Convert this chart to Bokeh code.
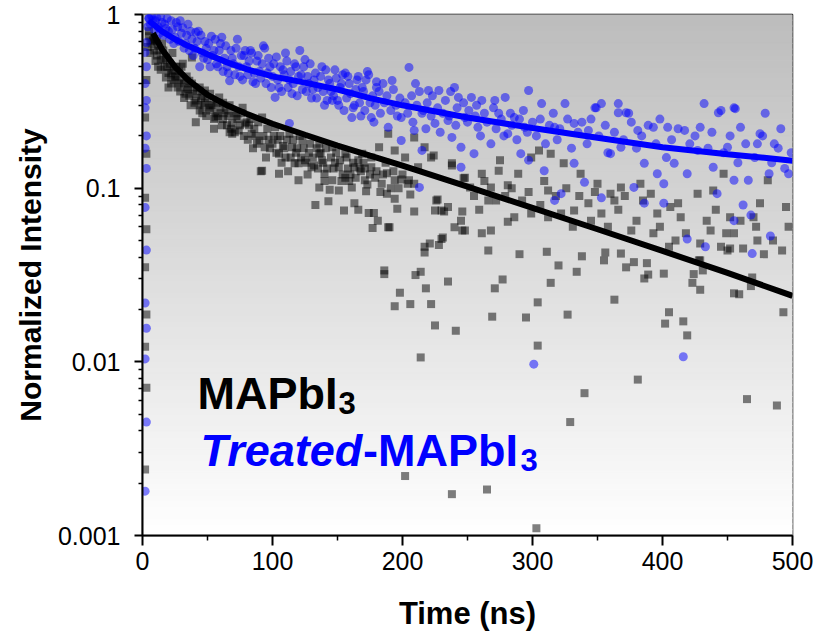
import numpy as np
from bokeh.plotting import figure
from bokeh.models import Range1d, FixedTicker, CustomJSTickFormatter, Label
from bokeh.embed import file_html
from bokeh.resources import INLINE

# ---------------- data ----------------
# MAPbI3 raw decay (black squares): time (ns), normalized intensity
black_t = [2, 3, 2, 3, 2, 3, 2, 3, 2, 3, 4, 5,
           6, 8, 9, 10, 11, 12, 13, 15, 16, 18, 19, 20, 22, 23, 23, 25, 26, 28, 30, 31, 33, 35, 36, 38,
           40, 41, 41, 44, 45, 47, 48, 51, 53, 55, 56, 57, 59, 62, 64, 65, 67, 69, 69, 72, 74, 77, 79,
           82, 84, 85, 87, 90, 91, 92, 92, 94, 95, 97, 100, 102, 105, 105, 107, 108, 110, 112, 113, 115,
           117, 118, 120, 120, 123, 125, 127, 128, 130, 132, 133, 136, 136, 136, 138, 140, 140, 142, 143,
           144, 146, 146, 148, 151, 151, 153, 155, 156, 156, 158, 160, 161, 163, 163, 166, 166, 168, 169,
           170, 171, 172, 174, 176, 176, 177, 178, 179,
           5, 6, 7, 9, 11, 12, 14, 14, 16, 17, 18, 20, 21, 22, 24, 24, 26, 27, 28, 29, 30, 32, 32, 34, 34,
           36, 37, 38, 39, 40,
           42, 43, 44, 46, 46, 48, 49, 50, 52, 52, 54, 55, 57, 58, 60, 61, 62, 63, 66, 67, 68, 70, 71, 73,
           75, 76, 78, 80, 81, 83, 86, 88, 89, 93, 96, 98,
           101, 103, 104, 106, 109, 111, 114, 116, 119, 121, 122, 124, 126, 129, 131, 134, 135, 137, 139,
           141, 145, 147, 149, 152, 154, 157, 159, 162, 164, 167, 171, 173, 175, 180, 183, 185, 187, 191,
           193, 197, 200,
           181, 182, 184, 186, 186, 188, 188, 189, 189, 190, 194, 194, 194, 194, 196, 198, 199, 202, 202,
           204, 205, 206, 206, 209, 209, 209, 210, 212, 214, 214, 217, 217, 217, 218, 221, 222, 222, 224,
           225, 225, 226, 227, 228, 230, 230, 231, 232, 235, 235, 238, 238, 238, 240, 241, 245, 246, 246,
           247, 248, 248,
           252, 261, 261, 265, 266, 266, 268, 268, 269, 271, 274, 275, 277, 281, 281, 286, 289, 290, 295,
           299, 299, 303, 304, 304, 305, 311, 312, 312, 314, 314, 320, 322, 324, 327, 329, 332, 334, 337,
           338, 340, 343, 350, 353, 355, 356, 360, 363, 363, 368, 368, 372, 376, 378, 381, 383, 386, 388,
           389, 391, 393, 396, 401, 402, 405, 405, 406, 414, 416, 419, 423, 424, 427, 428, 429, 429, 429,
           431, 437, 439, 445, 447, 450, 452, 452, 455, 455, 459, 460, 465, 468, 469, 470, 473, 475, 478,
           481, 488, 492, 493, 495,
           255, 259, 263, 272, 279, 284, 292, 297, 306, 309, 318, 326, 331, 336, 345, 348, 358, 366, 371,
           380, 385, 398, 410, 412, 418, 434, 441, 449, 462, 472, 485, 497]
black_v = [0.0024, 0.0071, 0.0122, 0.0187, 0.035, 0.058, 0.088, 0.158, 0.255, 0.42, 0.65, 0.8,
           0.7, 0.71, 0.62, 0.54, 0.7, 0.5, 0.62, 0.68, 0.55, 0.434, 0.5, 0.38, 0.45, 0.476, 0.6, 0.44, 0.5,
           0.4, 0.42, 0.52, 0.35, 0.37, 0.415, 0.566,
           0.38, 0.32, 0.24, 0.28, 0.33, 0.3, 0.365, 0.29, 0.3, 0.25, 0.255, 0.27, 0.333, 0.25, 0.28, 0.23,
           0.21, 0.236, 0.206, 0.26, 0.215, 0.29, 0.236,
           0.23, 0.206, 0.17, 0.2, 0.188, 0.125, 0.126, 0.255, 0.172, 0.15, 0.19, 0.18, 0.224, 0.158, 0.121,
           0.14, 0.175, 0.15, 0.125, 0.206, 0.172,
           0.139, 0.16, 0.139, 0.111, 0.188, 0.145, 0.12, 0.16, 0.132, 0.135, 0.08, 0.158, 0.18, 0.101, 0.145,
           0.121, 0.11, 0.13, 0.084,
           0.098, 0.111, 0.172, 0.14, 0.132, 0.097, 0.11, 0.0744, 0.115, 0.158, 0.13, 0.12, 0.101, 0.082,
           0.132, 0.075, 0.145, 0.125, 0.158,
           0.14, 0.111, 0.096, 0.072, 0.132, 0.15, 0.059, 0.072, 0.115,
           0.75, 0.6, 0.68, 0.72, 0.58, 0.66, 0.55, 0.48, 0.62, 0.5, 0.56, 0.46, 0.52, 0.4, 0.5, 0.42, 0.44,
           0.38, 0.47, 0.36, 0.5, 0.4, 0.33, 0.38, 0.44,
           0.34, 0.3, 0.4, 0.35, 0.31,
           0.36, 0.3, 0.38, 0.34, 0.27, 0.31, 0.26, 0.33, 0.28, 0.35, 0.3, 0.22, 0.31, 0.26, 0.29, 0.23, 0.31,
           0.27, 0.26, 0.3, 0.22, 0.27, 0.21, 0.25,
           0.23, 0.27, 0.2, 0.24, 0.19, 0.25, 0.22, 0.18, 0.24, 0.2, 0.22, 0.17,
           0.2, 0.16, 0.19, 0.2, 0.17, 0.19, 0.15, 0.19, 0.17, 0.2, 0.15, 0.17, 0.14, 0.18, 0.15, 0.17, 0.13,
           0.16, 0.14,
           0.17, 0.15, 0.13, 0.16, 0.145, 0.12, 0.15, 0.11, 0.14, 0.115, 0.13, 0.13, 0.105, 0.12, 0.125,
           0.095, 0.12, 0.14, 0.1,
           0.125, 0.1, 0.12,
           0.065, 0.172, 0.106, 0.032, 0.0336, 0.093, 0.122, 0.0595, 0.206, 0.0595, 0.087, 0.0209, 0.165,
           0.111, 0.076, 0.025, 0.112, 0.15, 0.0022,
           0.106, 0.111, 0.092, 0.0215, 0.106, 0.0735, 0.196, 0.0316, 0.132, 0.033, 0.0106, 0.0426, 0.172,
           0.046, 0.0265, 0.048, 0.15, 0.0215, 0.154,
           0.0744, 0.0162, 0.085, 0.086, 0.047, 0.0744, 0.051, 0.052, 0.0735, 0.029, 0.078, 0.135, 0.139,
           0.00173, 0.0595, 0.0151, 0.065, 0.0735, 0.057,
           0.114, 0.115, 0.057,
           0.101, 0.121, 0.055, 0.00184, 0.0438, 0.085, 0.101, 0.057, 0.0182, 0.0265, 0.126, 0.145, 0.0298,
           0.104, 0.064, 0.068, 0.121, 0.0417, 0.018,
           0.15, 0.0715, 0.0011, 0.022, 0.0124, 0.165, 0.043, 0.097, 0.068, 0.158, 0.0285, 0.0359, 0.0715,
           0.139, 0.0187, 0.0045, 0.0744, 0.033, 0.121,
           0.0405, 0.0066, 0.082, 0.106, 0.0715, 0.0384, 0.0426, 0.093, 0.085, 0.0228, 0.042, 0.101, 0.035,
           0.057, 0.0375, 0.0079, 0.106, 0.0302, 0.037,
           0.0318, 0.093, 0.055, 0.0715, 0.0322, 0.0166, 0.046, 0.0193, 0.078, 0.068, 0.0171, 0.0142, 0.0285,
           0.032, 0.093, 0.0384, 0.026, 0.0384, 0.048,
           0.0336, 0.057, 0.097, 0.046, 0.121, 0.0438, 0.068, 0.045, 0.0248, 0.055, 0.0245, 0.065, 0.0061,
           0.0273, 0.0306, 0.068, 0.05, 0.082, 0.0417,
           0.111, 0.0056, 0.0438, 0.0193, 0.078,
           0.09, 0.075, 0.11, 0.085, 0.09, 0.1, 0.085, 0.095, 0.08, 0.11, 0.09, 0.1, 0.06, 0.09, 0.065, 0.095,
           0.06, 0.075, 0.09,
           0.065, 0.085, 0.06, 0.05, 0.082, 0.055, 0.065, 0.075, 0.055, 0.045, 0.06, 0.05, 0.06]

# Treated-MAPbI3 raw decay (blue circles)
blue_t = [2, 3, 2, 3, 2, 3, 2, 3, 2, 3, 2, 3, 2, 3, 2, 3, 4, 5,
          5, 7, 10, 12, 14, 17, 20, 22, 25, 27, 29, 30, 33, 35, 38, 40, 41, 43, 44, 46, 48, 50, 53, 55,
          58, 60, 61, 63, 66, 67, 68, 70, 73, 75, 78, 80, 83, 85, 88, 90, 93, 94, 95, 98, 100, 102, 103,
          105, 108, 110, 113, 113, 115, 118, 120, 121, 123, 125, 128, 130, 133, 135, 138, 140, 143, 145,
          146, 148, 150, 153, 155, 156, 158, 160, 161, 163, 165, 168, 170, 173, 174, 175, 176, 178, 180,
          180,
          6, 8, 9, 11, 13, 15, 16, 18, 19, 21, 23, 24, 26, 28, 31, 32, 34, 36, 37, 39, 42, 45, 47, 49,
          51, 52, 54, 56, 57, 59, 62, 64, 65, 69, 71, 72, 74, 76, 77, 79, 81, 82, 84, 86, 87, 89, 91, 92,
          96, 97, 99,
          101, 104, 106, 107, 109, 111, 112, 114, 116, 117, 119, 122, 124, 126, 127, 129, 131, 132, 134,
          137, 139, 141, 142, 144, 147, 149, 151, 152, 154, 157, 159, 162, 164, 166, 167, 169, 171, 172,
          177, 179, 182, 183, 185, 186, 188, 191, 193, 195, 196, 198,
          202, 204, 207, 208, 211, 213, 216, 218, 219, 222, 223, 227, 229, 231, 233, 236, 237, 241, 242,
          247, 250, 251, 256, 257, 260, 263, 265, 270, 272, 276, 278, 283, 284, 288, 290, 293, 296, 300,
          303, 306, 310, 313, 316, 319, 321, 327, 330, 335, 338, 342, 345, 351, 356, 358, 363, 370, 376,
          380, 384, 389, 395, 398, 403, 407, 412, 421, 425, 435, 438, 447, 452, 458, 464, 471, 477, 484,
          489, 494, 499,
          189, 192, 199, 199, 205, 209, 210, 213, 215, 215, 220, 225, 228, 235, 238, 240, 243, 245, 245,
          248, 253, 255, 258, 261, 268, 271, 274, 279, 281, 286, 291, 294, 297, 297, 301, 307, 309, 317,
          317, 322, 325, 332, 332, 340, 343, 348, 349, 353, 353, 360, 366, 366, 368, 372, 374, 378, 381,
          386, 386, 393, 396, 401, 401, 404, 409, 416, 417, 419, 419, 427, 429, 432, 433, 439, 442, 443,
          445, 450, 455, 455, 455, 456, 460, 462, 466, 468, 469, 473, 475, 479, 482, 483, 486, 491, 497]
blue_v = [0.0018, 0.0045, 0.0104, 0.0156, 0.0218, 0.044, 0.0775, 0.13, 0.17, 0.2, 0.29, 0.32, 0.4, 0.5,
          0.605, 0.69, 0.85, 0.95,
          0.95, 0.98, 0.92, 0.85, 0.97, 0.88, 0.8, 0.92, 0.74, 0.85, 0.92, 0.78, 0.68, 0.88, 0.72, 0.64,
          0.79, 0.8, 0.5, 0.6, 0.7, 0.55, 0.75, 0.62,
          0.5, 0.68, 0.74, 0.56, 0.46, 0.415, 0.62, 0.52, 0.72, 0.44, 0.58, 0.5, 0.62, 0.41, 0.54, 0.47,
          0.66, 0.64, 0.4, 0.5, 0.44, 0.333, 0.57,
          0.38, 0.48, 0.6, 0.42, 0.236, 0.35, 0.5, 0.44, 0.62, 0.37, 0.55, 0.4, 0.33, 0.46, 0.38, 0.5, 0.3,
          0.42, 0.36,
          0.32, 0.48, 0.32, 0.4, 0.28, 0.46, 0.44, 0.35, 0.255, 0.3, 0.42, 0.26, 0.36, 0.47, 0.45, 0.31,
          0.255, 0.24, 0.38, 0.41,
          0.88, 0.93, 0.82, 0.96, 0.78, 0.9, 0.76, 0.83, 0.95, 0.72, 0.82, 0.68, 0.9, 0.7, 0.84, 0.64, 0.76,
          0.62, 0.8, 0.58, 0.7, 0.76, 0.56, 0.64,
          0.68, 0.5, 0.58, 0.72, 0.52, 0.62, 0.47, 0.66, 0.5, 0.56, 0.45, 0.64, 0.5, 0.58, 0.42, 0.62, 0.45,
          0.54, 0.6, 0.46, 0.4, 0.58, 0.43, 0.52,
          0.46, 0.56, 0.38,
          0.52, 0.42, 0.5, 0.36, 0.45, 0.54, 0.38, 0.47, 0.4, 0.52, 0.34, 0.45, 0.5, 0.36, 0.44, 0.52, 0.37,
          0.42, 0.33,
          0.44, 0.36, 0.48, 0.32, 0.4, 0.34, 0.43, 0.3, 0.38, 0.45, 0.33, 0.4, 0.29, 0.37, 0.44, 0.31, 0.38,
          0.28, 0.42,
          0.34, 0.3, 0.36, 0.27, 0.4, 0.31, 0.34, 0.28, 0.37, 0.3, 0.26, 0.33,
          0.31, 0.27, 0.34, 0.24, 0.3, 0.36, 0.28, 0.22, 0.31, 0.26, 0.34, 0.29, 0.21, 0.27, 0.32, 0.26,
          0.36, 0.23, 0.29,
          0.31, 0.24, 0.28, 0.26, 0.3, 0.2, 0.27, 0.24, 0.29, 0.22, 0.25, 0.2, 0.27, 0.23, 0.19, 0.25, 0.28,
          0.21, 0.24,
          0.2, 0.25, 0.18, 0.23, 0.27, 0.19, 0.22, 0.25, 0.17, 0.21, 0.24, 0.18, 0.25, 0.2, 0.23, 0.16, 0.21,
          0.19, 0.24,
          0.17, 0.2, 0.23, 0.18, 0.25, 0.15, 0.19, 0.22, 0.18, 0.2, 0.17, 0.21, 0.16, 0.2, 0.14, 0.18, 0.15,
          0.2, 0.14,
          0.17, 0.13, 0.16,
          0.224, 0.417, 0.255, 0.188, 0.496, 0.215, 0.4, 0.101, 0.27, 0.165, 0.365, 0.236, 0.365, 0.245,
          0.196, 0.38, 0.333, 0.172, 0.132,
          0.255, 0.333, 0.158, 0.224, 0.32, 0.18, 0.32, 0.27, 0.333, 0.206, 0.255, 0.158, 0.224, 0.365,
          0.145, 0.0097, 0.307, 0.126, 0.224,
          0.085, 0.093, 0.307, 0.236, 0.139, 0.108, 0.215, 0.29, 0.29, 0.307, 0.088, 0.158, 0.307, 0.272,
          0.172, 0.272, 0.27, 0.101, 0.215,
          0.139, 0.082, 0.224, 0.121, 0.082, 0.106, 0.224, 0.139, 0.0107, 0.215, 0.121, 0.051, 0.165, 0.224,
          0.307, 0.046, 0.132, 0.093, 0.272,
          0.28, 0.172, 0.29, 0.065, 0.111, 0.287, 0.224, 0.08, 0.111, 0.07, 0.042, 0.18, 0.206, 0.27, 0.121,
          0.053, 0.18, 0.22, 0.121]

# Fitted decay curves
black_fit_t = [8, 15, 25, 35, 50, 65, 80, 100, 125, 150, 175, 200, 250, 300, 350, 400, 450, 500]
black_fit_v = [0.78, 0.63, 0.5, 0.42, 0.345, 0.3, 0.268, 0.235, 0.203, 0.176, 0.154, 0.135, 0.102,
               0.077, 0.058, 0.0435, 0.0325, 0.024]
blue_fit_t = [5, 15, 25, 35, 50, 65, 80, 100, 125, 150, 175, 200, 250, 300, 350, 400, 450, 500]
blue_fit_v = [0.92, 0.8, 0.72, 0.66, 0.59, 0.53, 0.485, 0.44, 0.405, 0.37, 0.33, 0.30, 0.255, 0.222,
              0.195, 0.172, 0.157, 0.144]

x_ticks = [0, 100, 200, 300, 400, 500]
x_minor = [50, 150, 250, 350, 450]
y_ticks = [0.001, 0.01, 0.1, 1]

FONT = "Liberation Sans"

p = figure(width=820, height=641, y_axis_type="log",
           x_range=Range1d(0, 500), y_range=Range1d(0.001, 1),
           output_backend="svg", toolbar_location=None,
           min_border_left=142, min_border_right=28, min_border_top=14, min_border_bottom=106)
p.xgrid.visible = False
p.ygrid.visible = False
p.background_fill_color = "white"
p.border_fill_color = "white"
p.outline_line_color = "black"
p.outline_line_width = 1.5

# gray-to-white vertical gradient background (strips evenly spaced on the log axis)
n = 90
edges = np.logspace(-3, 0, n + 1)
shade = np.linspace(255, 189, n)
cols = ["#%02x%02x%02x" % (int(s), int(s), int(s)) for s in shade]
p.quad(left=0, right=500, bottom=edges[:-1], top=edges[1:], fill_color=cols, line_color=cols,
       line_width=1)

p.scatter(black_t, black_v, marker="square", size=8, fill_color="black", fill_alpha=0.5,
          line_color=None)
p.scatter(blue_t, blue_v, marker="circle", size=9, fill_color="#0000ff", fill_alpha=0.5,
          line_color=None)
p.line(black_fit_t, black_fit_v, line_color="black", line_width=6)
p.line(blue_fit_t, blue_fit_v, line_color="#0000ff", line_width=6)

# axes
minor_y = [k * 10.0 ** e for e in (-3, -2, -1) for k in range(2, 10)]
p.xaxis.ticker = FixedTicker(ticks=x_ticks, minor_ticks=x_minor)
p.yaxis.ticker = FixedTicker(ticks=y_ticks, minor_ticks=minor_y)
p.yaxis.formatter = CustomJSTickFormatter(code="return tick.toString();")

for ax in (p.xaxis[0], p.yaxis[0]):
    ax.axis_line_width = 2
    ax.axis_line_color = "black"
    ax.major_tick_in = 0
    ax.minor_tick_in = 0
    ax.major_tick_line_width = 2
    ax.minor_tick_line_width = 1.5
    ax.major_tick_line_color = "black"
    ax.minor_tick_line_color = "black"
    ax.major_label_text_font = FONT
    ax.major_label_text_font_size = "25px"
    ax.major_label_text_color = "black"
    ax.axis_label_text_font = FONT
    ax.axis_label_text_font_style = "bold"
    ax.axis_label_text_color = "black"

p.xaxis.major_tick_out = 10
p.xaxis.minor_tick_out = 5
p.xaxis.major_label_standoff = 6
p.xaxis.axis_label = "Time (ns)"
p.xaxis.axis_label_text_font_size = "31px"
p.xaxis.axis_label_standoff = 23

p.yaxis.major_tick_out = 8
p.yaxis.minor_tick_out = 4
p.yaxis.major_label_standoff = 14
p.yaxis.axis_label = "Normalized Intensity"
p.yaxis.axis_label_text_font_size = "30px"
p.yaxis.axis_label_standoff = 8

# in-plot legend text
def add_label(x, y, text, color, size, style, dx=0, dy=0):
    p.add_layout(Label(x=x, y=y, x_offset=dx, y_offset=dy, text=text, text_color=color,
                       text_font=FONT, text_font_size=size, text_font_style=style,
                       text_baseline="alphabetic", text_align="left"))

add_label(42.3, 0.0066, "MAPbI", "black", "45px", "bold")
add_label(42.3, 0.0066, "3", "black", "31px", "bold", dx=141, dy=-10)
add_label(44.6, 0.0031, "Treated", "#0000ff", "45px", "bold italic")
add_label(44.6, 0.0031, "-MAPbI", "#0000ff", "45px", "bold", dx=162.5)
add_label(44.6, 0.0031, "3", "#0000ff", "31px", "bold", dx=320, dy=-10)

open("out.html", "w").write(file_html(p, INLINE))
